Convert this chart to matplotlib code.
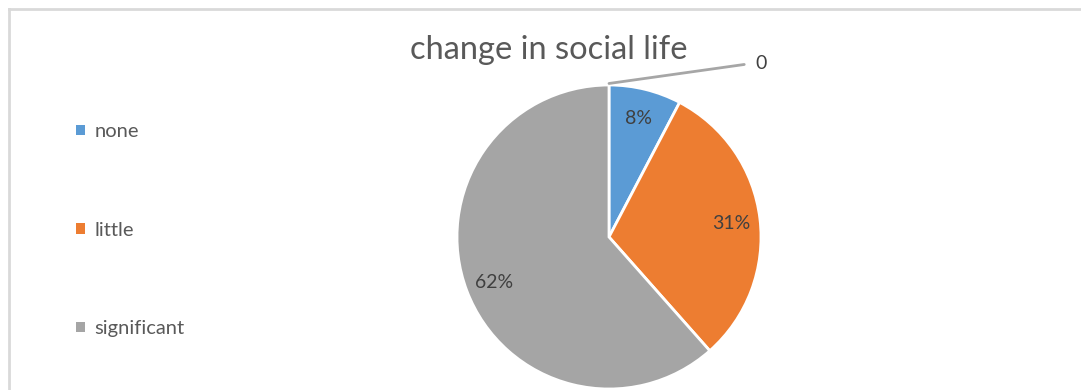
import numpy as np
import matplotlib.pyplot as plt
from matplotlib.lines import Line2D

# pie data: the empty first category shows up only as the "0" call-out
categories = ['', 'none', 'little', 'significant']
counts = [0, 2, 8, 16]
colors = ['#FFFFFF', '#5B9BD5', '#ED7D31', '#A5A5A5']
title = 'change in social life'

W, H = 1081, 390
plt.rcParams['font.family'] = ['Lato', 'DejaVu Sans']

fig = plt.figure(figsize=(W / 100, H / 100), dpi=100)

# light grey chart border (top and left only, the rest runs off the page)
top = 1 - 8.5 / H
left = 8.5 / W
fig.lines.append(Line2D([left, 1.01], [top, top], transform=fig.transFigure,
                        color='#D9D9D9', lw=2))
fig.lines.append(Line2D([left, left], [-0.01, top], transform=fig.transFigure,
                        color='#D9D9D9', lw=2))

# pie axes: centre (609, 237) px, radius 152 px
cx, cy, r = 609, 237, 152
ax = fig.add_axes([(cx - r) / W, (H - cy - r) / H, 2 * r / W, 2 * r / H])

total = sum(counts)
wedges, _ = ax.pie(counts, colors=colors, startangle=90, counterclock=False,
                   wedgeprops=dict(edgecolor='white', linewidth=2))
ax.set_xlim(-1, 1)
ax.set_ylim(-1, 1)
ax.set_aspect('equal')
ax.axis('off')

for w, c in zip(wedges, counts):
    if c == 0:
        # zero slice: value label with a leader line from its spot on the rim
        ang = np.deg2rad(w.theta1)
        x0, y0 = np.cos(ang), np.sin(ang)
        ax.annotate(f'{c}', xy=(x0, y0 + 0.01), xytext=(1.0, 1.14),
                    fontsize=14, color='#404040', ha='center', va='center',
                    annotation_clip=False,
                    arrowprops=dict(arrowstyle='-', color='#A6A6A6', lw=2,
                                    shrinkA=6, shrinkB=0,
                                    connectionstyle='angle,angleA=0,angleB=8,rad=0'))
        continue
    mid = np.deg2rad((w.theta1 + w.theta2) / 2)
    d = 0.81
    ax.text(d * np.cos(mid), d * np.sin(mid), f'{c / total:.0%}',
            fontsize=14, color='#404040', ha='center', va='center_baseline')

fig.text(549 / W, 1 - 50 / H, title, fontsize=23.5, color='#595959',
         ha='center', va='center')

leg = fig.legend(wedges[1:], categories[1:], loc='upper left',
                 bbox_to_anchor=(58 / W, 1 - 105 / H), frameon=False,
                 fontsize=14.5, labelcolor='#595959', labelspacing=4.05,
                 handlelength=0.45, handleheight=0.45, handletextpad=0.45)
for h in leg.legend_handles:
    h.set_edgecolor('none')

fig.savefig('out.png', dpi=100)
